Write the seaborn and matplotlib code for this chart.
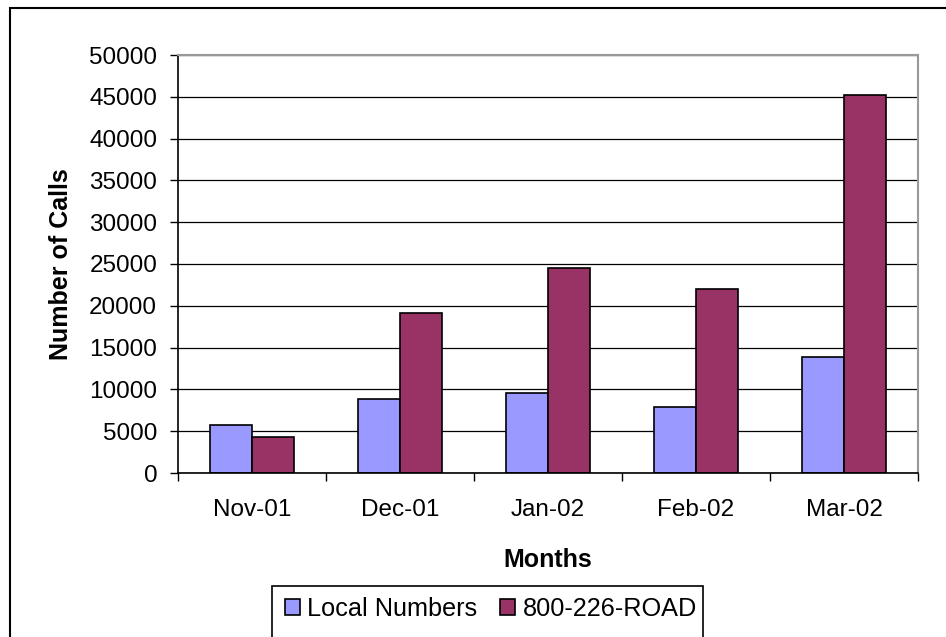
import matplotlib

matplotlib.use("Agg")
import matplotlib.pyplot as plt
import pandas as pd
import seaborn as sns
from matplotlib.patches import Rectangle

MONTHS = ["Nov-01", "Dec-01", "Jan-02", "Feb-02", "Mar-02"]
LOCAL_NUMBERS = [5700, 8850, 9570, 7900, 13880]
ROAD_NUMBER = [4300, 19100, 24560, 22000, 45170]
SERIES = ["Local Numbers", "800-226-ROAD"]
COLORS = ["#9999FF", "#993366"]

W, H = 946, 637


def build_frame() -> pd.DataFrame:
    rows = []
    for month, local, road in zip(MONTHS, LOCAL_NUMBERS, ROAD_NUMBER):
        rows.append({"Month": month, "Series": SERIES[0], "Calls": local})
        rows.append({"Month": month, "Series": SERIES[1], "Calls": road})
    return pd.DataFrame(rows)


def main() -> None:
    sns.set_style("ticks")
    plt.rcParams["font.family"] = ["Liberation Sans", "DejaVu Sans"]
    for key in ("text.color", "axes.labelcolor", "xtick.color", "ytick.color"):
        plt.rcParams[key] = "black"

    frame = build_frame()
    fig = plt.figure(figsize=(W / 100, H / 100), dpi=100)
    ax = fig.add_axes([178 / W, 1 - 473 / H, (918 - 178) / W, (473 - 55) / H])

    sns.barplot(
        data=frame,
        x="Month",
        y="Calls",
        hue="Series",
        order=MONTHS,
        hue_order=SERIES,
        palette=COLORS,
        width=0.565,
        edgecolor="black",
        linewidth=1.2,
        saturation=1,
        ax=ax,
    )
    ax.get_legend().remove()

    ax.set_xlim(-0.5, len(MONTHS) - 0.5)
    ax.set_ylim(0, 50000)
    ax.set_yticks(range(0, 50001, 5000))
    ax.yaxis.grid(True, color="black", linewidth=0.9)
    ax.set_axisbelow(True)

    # category separators as outward tick marks
    ax.set_xticks([i - 0.5 for i in range(len(MONTHS) + 1)], minor=True)
    ax.tick_params(axis="x", which="major", length=0, pad=19, labelsize=17.5)
    ax.tick_params(axis="x", which="minor", length=6, width=1, color="black")
    ax.tick_params(axis="y", length=6, width=1, color="black", pad=9, labelsize=17.5)

    for side in ("left", "bottom"):
        ax.spines[side].set_color("black")
        ax.spines[side].set_linewidth(1.2)
    for side in ("top", "right"):
        ax.spines[side].set_visible(True)
        ax.spines[side].set_color("#999999")
        ax.spines[side].set_linewidth(1.5)

    ax.set_xlabel("Months", fontsize=18, fontweight="bold", labelpad=19)
    ax.set_ylabel("Number of Calls", fontsize=18, fontweight="bold", labelpad=12)

    # outer chart-area frame (runs off the right and bottom edges)
    fig.add_artist(
        Rectangle((10 / W, -0.5), 2, 1 - 7.5 / H + 0.5, transform=fig.transFigure,
                  fill=False, edgecolor="black", linewidth=1.5)
    )
    # legend box (bottom edge is cut off)
    fig.add_artist(
        Rectangle((272 / W, -0.2), (703 - 272) / W, 1 - 585.5 / H + 0.2,
                  transform=fig.transFigure, facecolor="white", edgecolor="black",
                  linewidth=1.2)
    )
    handles = [
        Rectangle((0, 0), 1, 1, facecolor=c, edgecolor="black", linewidth=1.2)
        for c in COLORS
    ]
    fig.legend(
        handles,
        SERIES,
        loc="center",
        bbox_to_anchor=(491 / W, 1 - 609 / H),
        ncol=2,
        frameon=False,
        fontsize=18.2,
        handlelength=0.6,
        handleheight=0.6,
        handletextpad=0.3,
        columnspacing=0.9,
    )

    fig.savefig("out.png", dpi=100)
    plt.close(fig)


if __name__ == "__main__":
    main()
